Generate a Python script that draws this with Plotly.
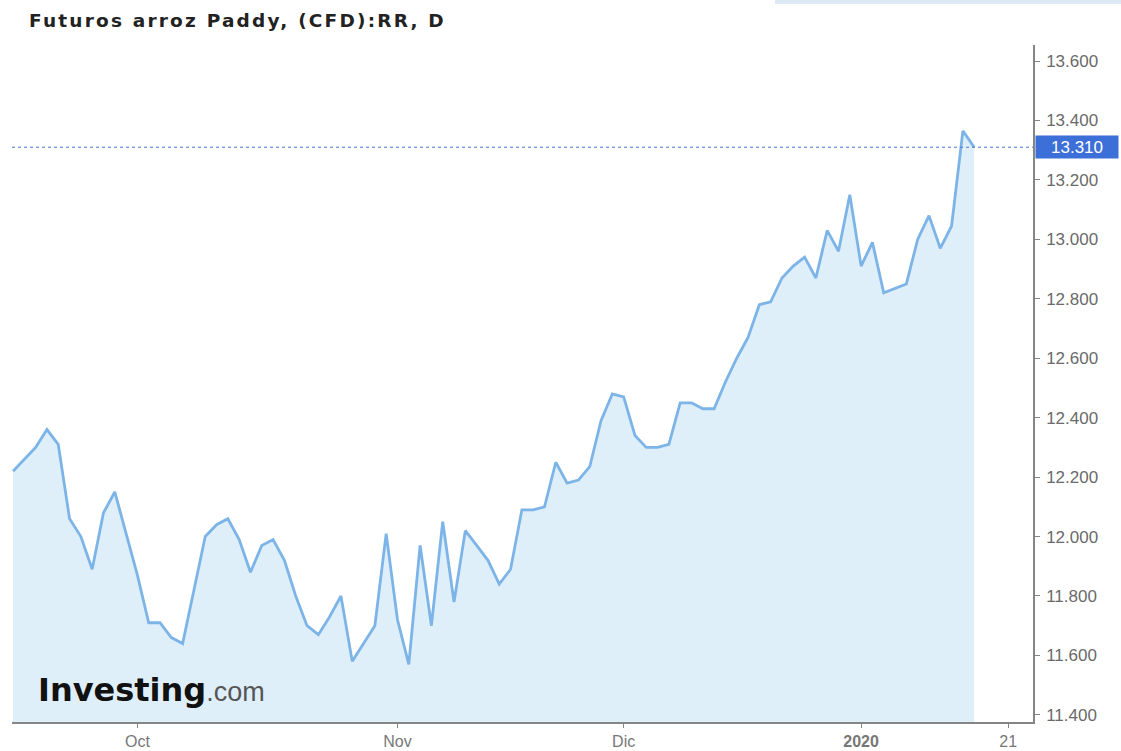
import plotly.graph_objects as go

# Daily trading-session index (0 = first session shown) and closing prices
prices = [12.22, 12.26, 12.30, 12.36, 12.31, 12.06, 12.00, 11.89, 12.08, 12.15,
          12.01, 11.87, 11.71, 11.71, 11.66, 11.64, 11.82, 12.00, 12.04, 12.06,
          11.99, 11.88, 11.97, 11.99, 11.92, 11.80, 11.70, 11.67, 11.73, 11.80,
          11.58, 11.64, 11.70, 12.01, 11.72, 11.57, 11.97, 11.70, 12.05, 11.78,
          12.02, 11.97, 11.92, 11.84, 11.89, 12.09, 12.09, 12.10, 12.25, 12.18,
          12.19, 12.235, 12.39, 12.48, 12.47, 12.34, 12.30, 12.30, 12.31, 12.45,
          12.45, 12.43, 12.43, 12.52, 12.60, 12.67, 12.78, 12.79, 12.87, 12.91,
          12.94, 12.87, 13.03, 12.96, 13.15, 12.91, 12.99, 12.82, 12.835, 12.85,
          13.00, 13.08, 12.97, 13.045, 13.365, 13.31]
sessions = list(range(len(prices)))

last_price = 13.31
last_label = "13.310"

x_tick_pos = [11, 34, 54, 75, 88]
x_tick_text = ["Oct", "Nov", "Dic", "<b>2020</b>", "21"]

y_tick_vals = [11.4, 11.6, 11.8, 12.0, 12.2, 12.4, 12.6, 12.8, 13.0, 13.2, 13.4, 13.6]
y_tick_text = ["11.400", "11.600", "11.800", "12.000", "12.200", "12.400",
               "12.600", "12.800", "13.000", "13.200", "13.400", "13.600"]

fig = go.Figure()
fig.add_trace(go.Scatter(
    x=sessions, y=prices, mode="lines",
    line=dict(color="#7db4e8", width=2.8),
    fill="tozeroy", fillcolor="#dfeffa",
    hoverinfo="skip", showlegend=False,
))

fig.update_layout(
    width=1121, height=751,
    margin=dict(l=12, r=88, t=45, b=29),
    paper_bgcolor="white", plot_bgcolor="white",
    font=dict(family="Liberation Sans, Arial, sans-serif", color="#6a6a6a"),
    xaxis=dict(range=[-0.09, 90.2], tickmode="array", tickvals=x_tick_pos,
               ticktext=x_tick_text, showgrid=False, zeroline=False,
               showline=True, linecolor="#858585", linewidth=1.5,
               ticks="outside", ticklen=4, tickcolor="#858585",
               ticklabelstandoff=0, automargin=False,
               tickfont=dict(size=16, color="#777777")),
    yaxis=dict(range=[11.376, 13.654], side="right", tickmode="array",
               tickvals=y_tick_vals, ticktext=y_tick_text, showgrid=False,
               zeroline=False, showline=True, linecolor="#858585", linewidth=1.5,
               ticks="outside", ticklen=5, tickcolor="#858585",
               ticklabelstandoff=3, automargin=False,
               tickfont=dict(size=17, color="#6a6a6a")),
)

# last price dotted line
fig.add_shape(type="line", xref="paper", x0=0, x1=1, yref="y",
              y0=last_price, y1=last_price,
              line=dict(color="#4d74d6", width=1.2, dash="dot"))

# last price label box
fig.add_annotation(xref="paper", x=1, yref="y", y=last_price,
                   xanchor="left", yanchor="middle", xshift=2,
                   text=last_label, showarrow=False, align="center",
                   bgcolor="#3d6fd9", width=74, height=14, borderpad=4,
                   font=dict(size=17, color="white"))

# title
fig.add_annotation(xref="paper", yref="paper", x=(27 - 12) / 1021, y=(722 - 20) / 677,
                   xanchor="left", yanchor="middle", showarrow=False,
                   text="<span style='letter-spacing:2.2px'>Futuros arroz Paddy, (CFD):RR, D</span>",
                   font=dict(family="DejaVu Sans", size=18.5, color="#222222", weight="bold"))

# logo
fig.add_annotation(xref="paper", yref="paper", x=(36 - 12) / 1021, y=(722 - 690) / 677,
                   xanchor="left", yanchor="middle", showarrow=False,
                   text="<b>Investing</b><span style='font-family:Liberation Sans;font-size:27px;color:#555555'>.com</span>",
                   font=dict(family="DejaVu Sans", size=32, color="#111111"))

# top-right faint bar
fig.add_shape(type="rect", xref="paper", yref="paper",
              x0=(775 - 12) / 1021, x1=(1121 - 12) / 1021,
              y0=(722 - 4) / 677, y1=(722 + 0) / 677 + 0.01,
              line=dict(width=0), fillcolor="#dde9f5", layer="above")

fig.write_html("out.html", config={"displayModeBar": False},
               post_script="document.body.style.margin='0px';")
